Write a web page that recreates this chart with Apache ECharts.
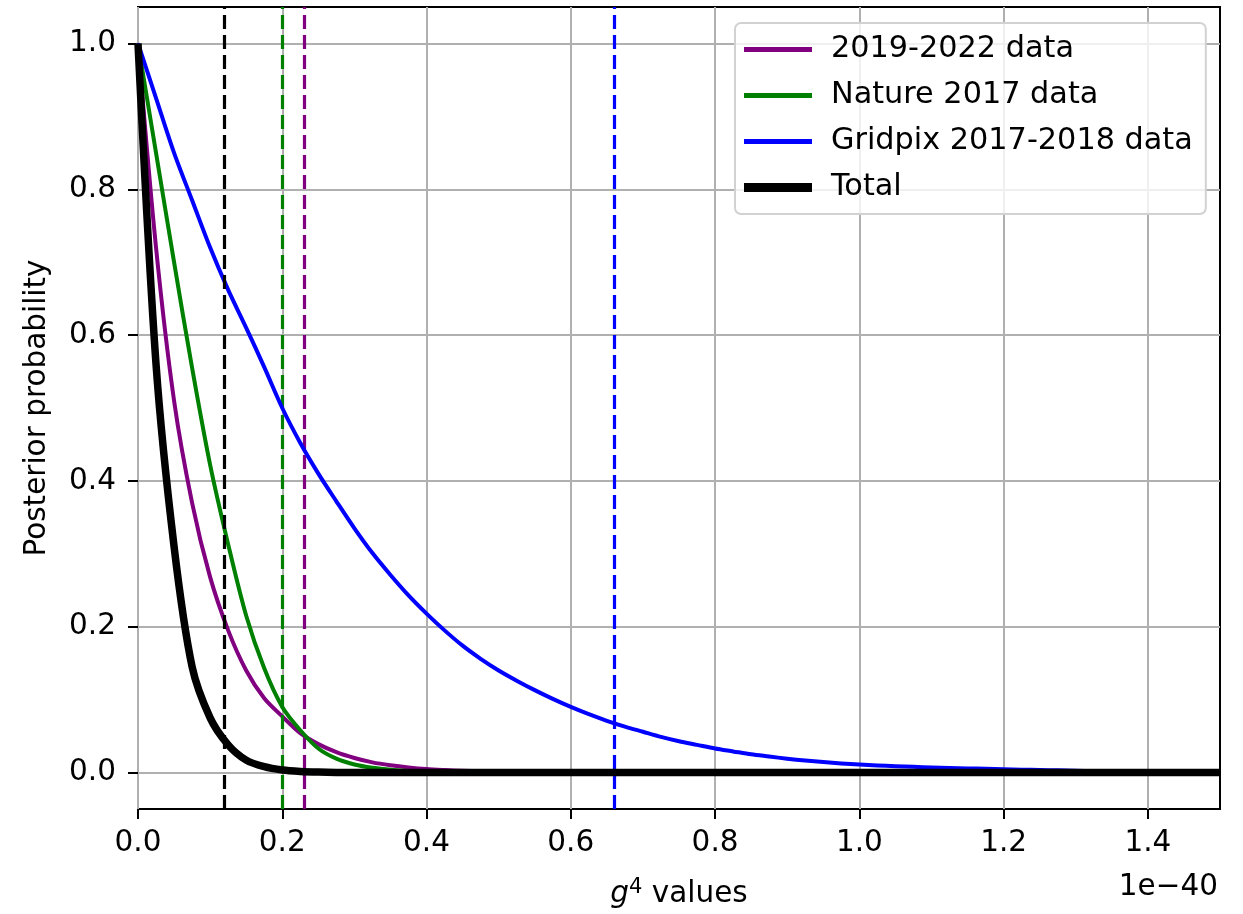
<!DOCTYPE html>
<html>
<head>
<meta charset="utf-8">
<title>Posterior probability vs g^4</title>
<script src="https://cdn.jsdelivr.net/npm/echarts@6/dist/echarts.min.js"></script>
<style>
  html, body { margin: 0; padding: 0; background: #fff; }
  #chart { width: 1243px; height: 914px; }
</style>
</head>
<body>
<div id="chart"></div>
<script>
// g^4 sample positions (units of 1e-40), step 0.025
const gValues = [
  0.000, 0.025, 0.050, 0.075, 0.100, 0.125, 0.150, 0.175, 0.200, 0.225,
  0.250, 0.275, 0.300, 0.325, 0.350, 0.375, 0.400, 0.425, 0.450, 0.475,
  0.500, 0.525, 0.550, 0.575, 0.600, 0.625, 0.650, 0.675, 0.700, 0.725,
  0.750, 0.775, 0.800, 0.825, 0.850, 0.875, 0.900, 0.925, 0.950, 0.975,
  1.000, 1.025, 1.050, 1.075, 1.100, 1.125, 1.150, 1.175, 1.200, 1.225,
  1.250, 1.275, 1.300, 1.325, 1.350, 1.375, 1.400, 1.425, 1.450, 1.475,
  1.500];

// Normalised posterior curves
const post2019to2022 = [
  1.0, 0.72, 0.51, 0.37, 0.268, 0.195, 0.14, 0.102, 0.077, 0.054,
  0.039, 0.028, 0.02, 0.014, 0.010, 0.007, 0.0048, 0.0035, 0.0025, 0.0017,
  0.0012, 0.0008, 0.0006, 0.0004, 0.0003, 0, 0, 0, 0, 0,
  0, 0, 0, 0, 0, 0, 0, 0, 0, 0,
  0, 0, 0, 0, 0, 0, 0, 0, 0, 0,
  0, 0, 0, 0, 0, 0, 0, 0, 0, 0,
  0];
const postNature2017 = [
  1.0, 0.85, 0.70, 0.555, 0.422, 0.313, 0.215, 0.143, 0.09, 0.058,
  0.033, 0.019, 0.011, 0.0065, 0.004, 0.0022, 0.0012, 0.0006, 0.0003, 0,
  0, 0, 0, 0, 0, 0, 0, 0, 0, 0,
  0, 0, 0, 0, 0, 0, 0, 0, 0, 0,
  0, 0, 0, 0, 0, 0, 0, 0, 0, 0,
  0, 0, 0, 0, 0, 0, 0, 0, 0, 0,
  0];
const postGridpix = [
  1.0, 0.925, 0.85, 0.785, 0.72, 0.662, 0.61, 0.556, 0.50, 0.452,
  0.41, 0.372, 0.335, 0.301, 0.271, 0.243, 0.218, 0.195, 0.174, 0.156,
  0.140, 0.126, 0.113, 0.101, 0.090, 0.080, 0.071, 0.063, 0.056, 0.049,
  0.043, 0.038, 0.033, 0.029, 0.025, 0.022, 0.019, 0.0165, 0.0145, 0.0125,
  0.011, 0.0098, 0.0088, 0.0078, 0.007, 0.0063, 0.0057, 0.0051, 0.0045, 0.004,
  0.0035, 0.003, 0.0025, 0.0021, 0.0018, 0.0015, 0.0012, 0.001, 0.0008, 0.0007,
  0.0006];
const postTotal = [
  1.0, 0.56, 0.31, 0.145, 0.075, 0.038, 0.017, 0.008, 0.0035, 0.0015,
  0.0006, 0.0002, 0.0001, 0, 0, 0, 0, 0, 0, 0,
  0, 0, 0, 0, 0, 0, 0, 0, 0, 0,
  0, 0, 0, 0, 0, 0, 0, 0, 0, 0,
  0, 0, 0, 0, 0, 0, 0, 0, 0, 0,
  0, 0, 0, 0, 0, 0, 0, 0, 0, 0,
  0];

// Upper limits (dashed verticals), same order as the series
const seriesNames = ['2019-2022 data', 'Nature 2017 data', 'Gridpix 2017-2018 data', 'Total'];
const upperLimits = [0.227, 0.196, 0.658, 0.119];

// Tick labels
const xTicks = [0, 0.2, 0.4, 0.6, 0.8, 1.0, 1.2, 1.4];
const yTicks = [0, 0.2, 0.4, 0.6, 0.8, 1.0];

const curves = [post2019to2022, postNature2017, postGridpix, postTotal];
const colors = ['#800080', '#008000', '#0000ff', '#000000'];
const widths = [4, 4, 4, 7.5];

const FONT = 'DejaVu Sans';
const FS = 29.5;
const FS_LEGEND = 30.3;

const chart = echarts.init(document.getElementById('chart'), null, { renderer: 'canvas' });

const series = curves.map((ys, i) => ({
  name: seriesNames[i],
  type: 'line',
  data: gValues.map((x, k) => [x, ys[k]]),
  showSymbol: false,
  symbol: 'none',
  smooth: 0.3,
  clip: true,
  z: 2 + i * 2,
  lineStyle: { color: colors[i], width: widths[i], cap: 'butt', join: 'round' },
  itemStyle: { color: colors[i] },
  emphasis: { disabled: true },
  markLine: {
    silent: true,
    symbol: 'none',
    z: 3 + i * 2,
    animation: false,
    label: { show: false },
    emphasis: { disabled: true },
    lineStyle: { color: colors[i], type: [14, 6], width: 3.2 },
    data: [{ xAxis: upperLimits[i] }]
  }
}));

const option = {
  animation: false,
  backgroundColor: '#ffffff',
  textStyle: { fontFamily: FONT },
  grid: {
    left: 138, right: 23, top: 7, bottom: 102,
    show: true, borderColor: '#000', borderWidth: 2, backgroundColor: 'transparent'
  },
  xAxis: {
    type: 'value',
    min: 0, max: 1.5,
    name: '{i|g}{s|4}{t| values}',
    nameLocation: 'middle',
    nameGap: 68,
    nameTextStyle: {
      color: '#000', fontFamily: FONT, fontSize: FS,
      rich: {
        i: { fontStyle: 'italic', fontFamily: FONT, fontSize: FS, color: '#000', lineHeight: 34 },
        s: { fontFamily: FONT, fontSize: 21, color: '#000', verticalAlign: 'top', lineHeight: 20 },
        t: { fontFamily: FONT, fontSize: FS, color: '#000', lineHeight: 34 }
      }
    },
    axisLine: { show: false, onZero: false },
    axisTick: { show: true, inside: false, length: 10, lineStyle: { color: '#000', width: 2 }, customValues: xTicks },
    axisLabel: {
      show: true, customValues: xTicks, margin: 19, color: '#000', fontSize: FS, fontFamily: FONT,
      formatter: v => v.toFixed(1)
    },
    splitLine: { show: true, lineStyle: { color: '#b0b0b0', width: 2 } }
  },
  yAxis: {
    type: 'value',
    min: -0.05, max: 1.05,
    name: 'Posterior probability',
    nameLocation: 'middle',
    nameRotate: 90,
    nameGap: 86,
    nameTextStyle: { color: '#000', fontFamily: FONT, fontSize: FS },
    axisLine: { show: false, onZero: false },
    axisTick: { show: true, inside: false, length: 10, lineStyle: { color: '#000', width: 2 }, customValues: yTicks },
    axisLabel: {
      show: true, customValues: yTicks, margin: 22, color: '#000', fontSize: FS, fontFamily: FONT,
      formatter: v => v.toFixed(1)
    },
    splitLine: { show: true, lineStyle: { color: '#b0b0b0', width: 2 } }
  },
  legend: {
    show: true,
    orient: 'vertical',
    left: 735, top: 23,
    padding: [9, 13, 9, 9],
    itemWidth: 68, itemHeight: 9,
    itemGap: 11,
    symbolKeepAspect: true,
    backgroundColor: 'rgba(255,255,255,0.8)',
    borderColor: '#d2d2d2', borderWidth: 2, borderRadius: 6,
    selectedMode: false,
    textStyle: { color: '#000', fontFamily: FONT, fontSize: FS_LEGEND, lineHeight: 35, padding: [0, 0, 0, 14] },
    data: seriesNames.map((n, i) => ({
      name: n,
      icon: i === 3 ? 'path://M0,0H68V9H0Z' : 'path://M0,0H68V5H0Z',
      itemStyle: { color: colors[i] }
    }))
  },
  graphic: [{
    type: 'text',
    right: 25, top: 872,
    silent: true,
    style: { text: '1e\u221240', fill: '#000', font: FS + 'px "' + FONT + '"' }
  }],
  series: series
};

chart.setOption(option);
</script>
</body>
</html>
